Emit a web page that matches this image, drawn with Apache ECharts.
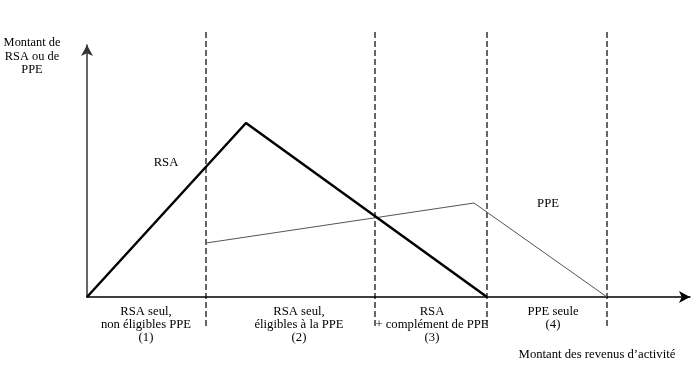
<!DOCTYPE html>
<html><head><meta charset="utf-8">
<script src="https://cdn.jsdelivr.net/npm/echarts@6/dist/echarts.min.js"></script>
<style>html,body{margin:0;padding:0;background:#fff}#c{width:699px;height:373px}</style>
</head><body><div id="c"></div>
<script>
// Data (arbitrary income / amount units)
const rsaX = [0, 159, 400];
const rsaY = [0, 174, 0];
const ppeX = [119, 387, 520];
const ppeY = [54, 94, 0];
const boundaryX = [119, 288, 400, 520];
const boundaryYRange = [-29, 267];
const regionLabels = [
  "RSA seul,\nnon éligibles PPE\n(1)",
  "RSA seul,\néligibles à la PPE\n(2)",
  "RSA\n+ complément de PPE\n(3)",
  "PPE seule\n(4)"
];
const regionCenters = [146, 299, 432, 553];
const yAxisTitle = "Montant de\nRSA ou de\nPPE";
const xAxisTitle = "Montant des revenus d\u2019activité";

const font = "'Liberation Serif','Times New Roman',serif";
const chart = echarts.init(document.getElementById('c'));
const series = [
  {type:'line', data: rsaX.map((x,i)=>[x, rsaY[i]]), symbol:'none',
   lineStyle:{color:'#000', width:2.5}, z:5},
  {type:'line', data: ppeX.map((x,i)=>[x, ppeY[i]]), symbol:'none',
   lineStyle:{color:'#555', width:1}, z:4}
];
boundaryX.forEach(bx => series.push({
  type:'line', clip:false, symbol:'none', silent:true,
  data: boundaryYRange.map(y => [bx, y]),
  lineStyle:{color:'#000', width:1.2, type:[6,3]}, z:3
}));
const graphics = regionLabels.map((t,i)=>({
  type:'text', x: regionCenters[i], y: 305,
  style:{text:t, font:'12.7px ' + font, fill:'#000', textAlign:'center', lineHeight:13}
}));
graphics.push({type:'text', x:32, y:36, style:{text:yAxisTitle, font:'12.4px '+font, fill:'#000', textAlign:'center', lineHeight:13.5}});
graphics.push({type:'text', x:597, y:348, style:{text:xAxisTitle, font:'12.7px '+font, fill:'#000', textAlign:'center'}});
graphics.push({type:'text', x:166, y:156, style:{text:'RSA', font:'12.7px '+font, fill:'#000', textAlign:'center'}});
graphics.push({type:'text', x:548, y:197, style:{text:'PPE', font:'12.7px '+font, fill:'#000', textAlign:'center'}});

chart.setOption({
  animation:false,
  grid:{left:87, top:45, width:603, height:252},
  xAxis:{type:'value', min:0, max:603,
    axisLine:{show:true, onZero:false, symbol:['none','arrow'], symbolSize:[9,11], lineStyle:{color:'#000', width:1.5}},
    axisTick:{show:false}, axisLabel:{show:false}, splitLine:{show:false}},
  yAxis:{type:'value', min:0, max:252,
    axisLine:{show:true, onZero:false, symbol:['none','arrow'], symbolSize:[9,11], lineStyle:{color:'#333', width:1.5}},
    axisTick:{show:false}, axisLabel:{show:false}, splitLine:{show:false}},
  series: series,
  graphic: graphics
});
</script></body></html>
